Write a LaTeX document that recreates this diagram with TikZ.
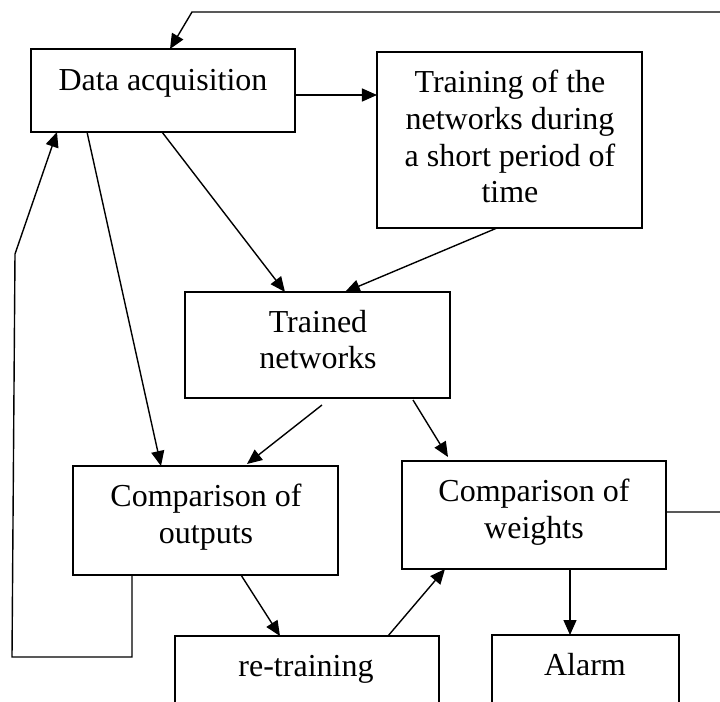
\documentclass[tikz,border=0pt]{standalone}
\usepackage{fontspec}
\setmainfont{Liberation Serif}
\usetikzlibrary{arrows.meta,calc}
\begin{document}
\begin{tikzpicture}[x=0.5pt,y=-0.5pt,
  box/.style={draw,line width=0.85pt,inner sep=0pt,outer sep=0pt,anchor=north west},
  lbl/.style={align=center,font=\fontsize{16}{18.4}\selectfont,inner sep=0pt},
  arr/.style={line width=0.7pt,-{Triangle[length=7.5pt,width=6.5pt]}}]
% page frame
\useasboundingbox (0,0) rectangle (720,702);
\clip (0,0) rectangle (720,702);
\fill[white] (0,0) rectangle (720,702);

% boxes
\node[box,minimum width=132pt,minimum height=41.5pt] (da) at (31,49) {};
\node[box,minimum width=132.5pt,minimum height=88pt] (tr) at (377,52) {};
\node[box,minimum width=132.5pt,minimum height=53pt] (tn) at (185,292) {};
\node[box,minimum width=132.5pt,minimum height=54.5pt] (coo) at (73,466) {};
\node[box,minimum width=132pt,minimum height=54pt] (cow) at (402,461) {};
\node[box,minimum width=132pt,minimum height=52pt] (rt) at (175,636) {};
\node[box,minimum width=93.5pt,minimum height=52.5pt] (al) at (492,635) {};

% labels
\node[lbl,anchor=base] (tda) at (163,90) {Data acquisition};
\node[lbl] (ttr) at (510,136.6) {Training of the\\networks during\\a short period of\\time};
\node[lbl] (ttn) at (318,339.5) {Trained\\networks};
\node[lbl] (tcoo) at (206,517) {Comparison of\\outputs};
\node[lbl] (tcow) at (534,512) {Comparison of\\weights};
\node[lbl,anchor=base] (trt) at (306,676) {re-training};
\node[lbl,anchor=base] (tal) at (585,675) {Alarm};

% corner points of the feedback loops
\coordinate (rtop) at (725,12);
\coordinate (ltop) at (192,12);
\coordinate (lbot) at (12,657);
\coordinate (lbend) at (15,254);

% connectors
\draw[arr] ($(da.north east)+(0,46)$) -- ($(tr.north west)+(0,43)$);
\draw[arr] ($(da.south west)+(131,0)$) -- ($(tn.north west)+(100,0)$);
\draw[arr] ($(tr.south west)+(120,0)$) -- ($(tn.north west)+(160,0)$);
\draw[arr] ($(da.south west)+(56,0)$) -- ($(coo.north west)+(88,0)$);
\draw[arr] ($(tn.south west)+(137,7)$) -- ($(coo.north west)+(174,-2)$);
\draw[arr] ($(tn.south west)+(228,2)$) -- ($(cow.north west)+(46,-4)$);
\draw[arr] ($(coo.south west)+(168,0)$) -- ($(rt.north west)+(105,0)$);
\draw[arr] ($(rt.north west)+(213,0)$) -- ($(cow.south west)+(43,0)$);
\draw[arr] ($(cow.south west)+(168,0)$) -- ($(al.north west)+(78,0)$);
% weight comparison back to data acquisition
\draw[arr] ($(cow.north east)+(0,51)$) -| (rtop) -- (ltop) -- ($(da.north west)+(139,0)$);
% output comparison back to data acquisition
\draw[arr] ($(coo.south west)+(59,0)$) |- (lbot) -- (lbend) -- ($(da.south west)+(26,0)$);
\end{tikzpicture}
\end{document}
